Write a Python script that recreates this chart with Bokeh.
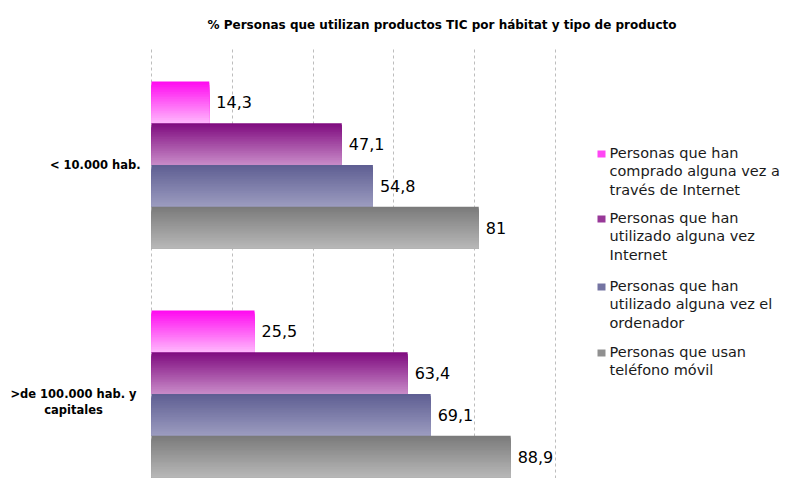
from bokeh.plotting import figure
from bokeh.models import Range1d, FixedTicker, Label, BoxAnnotation
from bokeh.core.properties import value
from bokeh.embed import file_html
from bokeh.resources import INLINE

# ---- data ----
categories = ["< 10.000 hab.", ">de 100.000 hab. y\ncapitales"]
series_names = [
    "Personas que han\ncomprado alguna vez a\ntravés de Internet",
    "Personas que han\nutilizado alguna vez\nInternet",
    "Personas que han\nutilizado alguna vez el\nordenador",
    "Personas que usan\nteléfono móvil",
]
compras = [14.3, 25.5]
internet = [47.1, 63.4]
ordenador = [54.8, 69.1]
movil = [81.0, 88.9]
series_values = [compras, internet, ordenador, movil]
x_ticks = [0, 20, 40, 60, 80, 100]

# ---- styles ----
grad_top = ["#FF08F0", "#7E0A7E", "#5E5E92", "#7A7A7A"]
grad_bot = ["#FFB8FC", "#C98CC9", "#9C9CC0", "#B8B8B8"]
FONT = "DejaVu Sans"

W, H = 781, 478
TOP = 45                  # frame top (px)
AXIS_LEFT_PX = 151        # pixel where value 0 sits
PX_PER_UNIT = 4.04        # pixels per percentage point
cat_pos = [1.0, 0.0]      # category centres (top, bottom)
bar_h = 0.1822
offsets = [1.5, 0.5, -0.5, -1.5]
N = 24

# legend layout (px from top of canvas)
LEG_TEXT_X = 609
LEG_SW_X = 597
LEG_ITEM_TOP = [144, 209, 277, 343]


def hex2rgb(h):
    return tuple(int(h[i:i + 2], 16) for i in (1, 3, 5))


def mix(c1, c2, t):
    a, b = hex2rgb(c1), hex2rgb(c2)
    return "#%02x%02x%02x" % tuple(round(a[i] + (b[i] - a[i]) * t) for i in range(3))


x_start = -AXIS_LEFT_PX / PX_PER_UNIT
x_end = (W - AXIS_LEFT_PX) / PX_PER_UNIT

p = figure(width=W, height=H, output_backend="svg", toolbar_location=None,
           x_range=Range1d(x_start, x_end), y_range=Range1d(-0.3686, 1.517),
           min_border_left=0, min_border_right=0, min_border_top=TOP,
           min_border_bottom=0)

p.outline_line_color = None
p.background_fill_color = "white"
p.border_fill_color = "white"

p.xaxis.ticker = FixedTicker(ticks=x_ticks)
p.xaxis.visible = False
p.yaxis.visible = False
p.xgrid.grid_line_color = "#BDBDBD"
p.xgrid.grid_line_dash = "3 3"
p.ygrid.grid_line_color = None

p.title.text = "% Personas que utilizan productos TIC por hábitat y tipo de producto"
p.title.align = "left"
p.title.offset = 207
p.title.text_font = FONT
p.title.text_font_size = "12px"
p.title.text_font_style = "bold"
p.title.text_color = "#000000"
p.title.standoff = 30

for s, vals in enumerate(series_values):
    centers = [c + offsets[s] * bar_h for c in cat_pos]
    bottoms = [c - bar_h / 2 for c in centers]
    for k in range(N):
        t = (k + 0.5) / N
        col = mix(grad_top[s], grad_bot[s], t)
        tops = [c + bar_h / 2 - k * bar_h / N for c in centers]
        p.quad(left=0, right=vals, top=tops, bottom=bottoms,
               fill_color=col, line_color=None)
    labels = [("%g" % v).replace(".", ",") for v in vals]
    p.text(x=vals, y=centers, text=labels, x_offset=7, text_align="left",
           text_baseline="middle", text_font=value(FONT), text_font_size="16px",
           text_color="#000000")

# category labels
p.text(x=[0], y=[cat_pos[0]], text=[categories[0]], x_offset=-11, text_align="right",
       text_baseline="middle", text_font=value(FONT), text_font_size="11.5px",
       text_font_style="bold", text_color="#000000")
p.text(x=[0], y=[cat_pos[1]], text=[categories[1]], x_offset=-78, y_offset=8,
       text_align="center", text_baseline="middle", text_font=value(FONT),
       text_font_size="11.5px", text_font_style="bold", text_color="#000000",
       text_line_height=1.1)

# legend (drawn by hand so that wrapped labels keep the reference spacing)
for s, name in enumerate(series_names):
    top_px = LEG_ITEM_TOP[s]
    sw_col = mix(grad_top[s], grad_bot[s], 0.35)
    p.add_layout(BoxAnnotation(left=LEG_SW_X, right=LEG_SW_X + 8,
                               top=H - (top_px + 6), bottom=H - (top_px + 13),
                               left_units="screen", right_units="screen",
                               top_units="screen", bottom_units="screen",
                               fill_color=sw_col, fill_alpha=1, line_color=None))
    p.add_layout(Label(x=LEG_TEXT_X, y=H - top_px, x_units="screen", y_units="screen",
                       text=name, text_align="left", text_baseline="top",
                       text_font=FONT, text_font_size="14.5px",
                       text_line_height=1.17, text_color="#1a1a1a"))

open("out.html", "w").write(file_html(p, INLINE))
